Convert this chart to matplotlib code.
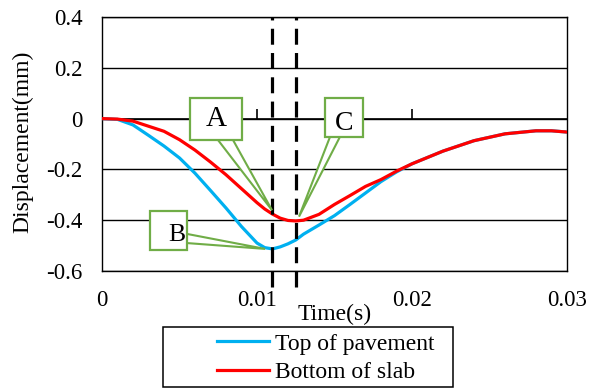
import numpy as np
import matplotlib
matplotlib.use("Agg")
import matplotlib.pyplot as plt
from matplotlib.patches import Rectangle, Polygon
from matplotlib.lines import Line2D

# time (s) and displacement (mm)
t = [0, 0.001, 0.002, 0.003, 0.004, 0.005, 0.006, 0.007, 0.008, 0.009, 0.010,
     0.0105, 0.011, 0.0115, 0.012, 0.0125, 0.013, 0.014, 0.015, 0.016, 0.017,
     0.018, 0.019, 0.020, 0.022, 0.024, 0.026, 0.028, 0.029, 0.030]
top_pavement = [0, -0.003, -0.025, -0.066, -0.108, -0.155, -0.215, -0.283, -0.352,
                -0.425, -0.490, -0.508, -0.513, -0.505, -0.493, -0.478, -0.455,
                -0.419, -0.382, -0.338, -0.293, -0.248, -0.210, -0.178, -0.128,
                -0.087, -0.060, -0.048, -0.048, -0.053]
bottom_slab = [0, -0.002, -0.010, -0.030, -0.050, -0.083, -0.124, -0.171, -0.221,
               -0.276, -0.331, -0.356, -0.376, -0.392, -0.401, -0.403, -0.400,
               -0.377, -0.338, -0.303, -0.267, -0.240, -0.207, -0.178, -0.128,
               -0.087, -0.060, -0.048, -0.048, -0.053]

x_ticks = [0, 0.01, 0.02, 0.03]
x_labels = ["0", "0.01", "0.02", "0.03"]
y_ticks = [-0.6, -0.4, -0.2, 0, 0.2, 0.4]
y_labels = ["-0.6", "-0.4", "-0.2", "0", "0.2", "0.4"]

t_marks = [0.01097, 0.01252]   # dashed lines
blue = "#00B0F0"
red = "#FF0000"
green = "#70AD47"

plt.rcParams['font.family'] = ['Liberation Serif', 'DejaVu Serif']
plt.rcParams['font.size'] = 16

fig = plt.figure(figsize=(5.97, 3.92), dpi=100)
ax = fig.add_axes([102/597, 1-271/392, 465/597, 254/392])

ax.set_xlim(0, 0.03)
ax.set_ylim(-0.6, 0.4)
ax.set_xticks(x_ticks)
ax.set_xticklabels(x_labels)
ax.set_yticks(y_ticks)
ax.set_yticklabels(y_labels)
ax.tick_params(length=0, pad=14, labelsize=16.5)
ax.yaxis.grid(True, color='k', lw=1)
ax.set_axisbelow(True)
for s in ax.spines.values():
    s.set_linewidth(1)
    s.set_color('k')

# horizontal axis through zero with small upward ticks
ax.axhline(0, color='k', lw=1.2, zorder=1)
ax.plot(x_ticks[1:-1], [0]*len(x_ticks[1:-1]), ls='none', marker=2, ms=7,
        mew=1.2, color='k', zorder=1)

ax.plot(t, top_pavement, color=blue, lw=2.3, zorder=3)
ax.plot(t, bottom_slab, color=red, lw=2.3, zorder=4)

for tm in t_marks:
    ax.axvline(tm, ymin=-0.063, ymax=1, color='k', lw=2.3,
               ls=(0, (5, 2.6)), clip_on=False, zorder=5)

ax.set_xlabel("Time(s)", fontsize=17)
ax.xaxis.set_label_coords(0.5, -0.13)
ax.set_ylabel("Displacement(mm)", fontsize=17)
ax.yaxis.set_label_coords(-0.148, 0.51)

# callouts: box (x0, y0, x1, y1), wedge base points, tip, text position
tipA = (t_marks[0], np.interp(t_marks[0], t, bottom_slab) + 0.014)
tipC = (0.01271, np.interp(t_marks[1], t, bottom_slab) + 0.017)
tipB = (0.01052, min(top_pavement))
callouts = [
    ("A", (0.00568, -0.084, 0.00903, 0.081), [(0.00748, -0.084), (0.00845, -0.084)], tipA, 21, (0.00735, 0.0)),
    ("C", (0.01439, -0.072, 0.01684, 0.081), [(0.01471, -0.072), (0.01535, -0.072)], tipC, 20, (0.01561, -0.02)),
    ("B", (0.0031, -0.517, 0.00548, -0.364), [(0.00548, -0.454), (0.00548, -0.490)], tipB, 18.5, (0.0048, -0.46)),
]
for label, (x0, y0, x1, y1), base, tip, fs, tpos in callouts:
    ax.add_patch(Polygon([base[0], tip, base[1]], closed=True, facecolor='white',
                         edgecolor=green, lw=1.5, zorder=6))
    ax.add_patch(Rectangle((x0, y0), x1-x0, y1-y0, facecolor='white',
                           edgecolor=green, lw=1.6, zorder=7))
    ax.text(tpos[0], tpos[1], label, fontsize=fs, ha='center', va='center', zorder=8)

# legend below the plot
fig.patches.append(Rectangle((163/597, 5/392), 290/597, 60/392, transform=fig.transFigure,
                             facecolor='white', edgecolor='k', lw=1.1))
handles = [Line2D([], [], color=blue, lw=2.3), Line2D([], [], color=red, lw=2.3)]
fig.legend(handles, ["Top of pavement", "Bottom of slab"], loc='upper left',
           bbox_to_anchor=(217/597, 1-333/392), frameon=False, borderpad=0,
           borderaxespad=0, handlelength=2.2, handletextpad=0.25, labelspacing=0.3,
           fontsize=17)

fig.savefig("out.png", dpi=100)
